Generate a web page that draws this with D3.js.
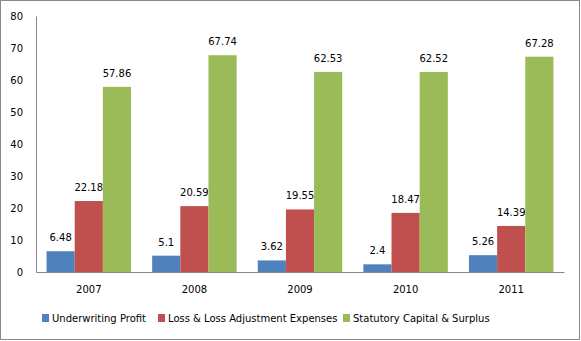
<!DOCTYPE html>
<html>
<head>
<meta charset="utf-8">
<script src="https://cdn.jsdelivr.net/npm/d3@7"></script>
<style>
  body { margin: 0; background: #fff; }
  text { font-family: "DejaVu Sans", Verdana, sans-serif; font-size: 10px; fill: #000; }
</style>
</head>
<body>
<div id="chart-area"></div>
<script>
// Data
var years = ["2007", "2008", "2009", "2010", "2011"];
var seriesNames = ["Underwriting Profit", "Loss & Loss Adjustment Expenses", "Statutory Capital & Surplus"];
var underwriting = [6.48, 5.1, 3.62, 2.4, 5.26];
var lossExpenses = [22.18, 20.59, 19.55, 18.47, 14.39];
var capitalSurplus = [57.86, 67.74, 62.53, 62.52, 67.28];
var yTicks = [0, 10, 20, 30, 40, 50, 60, 70, 80];
var colors = ["#4F81BD", "#C0504D", "#9BBB59"];

var W = 581, H = 341;
var margin = {top: 16, right: 16, bottom: 69, left: 36},
    width = 564 - margin.left,
    height = 272 - margin.top;

var svg = d3.select("#chart-area").append("svg")
    .attr("width", W)
    .attr("height", H);

// outer border
svg.append("rect")
    .attr("x", 0.5).attr("y", 0.5)
    .attr("width", W - 2).attr("height", H - 2)
    .attr("fill", "none")
    .attr("stroke", "#888");

var g = svg.append("g")
    .attr("transform", "translate(" + margin.left + "," + margin.top + ")");

var x0 = d3.scaleBand().domain(years).range([0, width]).paddingInner(0.2).paddingOuter(0.1);
var x1 = d3.scaleBand().domain(d3.range(3)).range([0, x0.bandwidth()]);
var y = d3.scaleLinear().domain([0, 80]).range([height, 0]);

var series = [underwriting, lossExpenses, capitalSurplus];

// bars
series.forEach(function(vals, s) {
    g.selectAll(".bar" + s)
        .data(vals)
        .enter().append("rect")
        .attr("x", function(d, i) { return x0(years[i]) + x1(s); })
        .attr("y", function(d) { return y(d); })
        .attr("width", x1.bandwidth())
        .attr("height", function(d) { return height - y(d); })
        .attr("fill", colors[s]);

    g.selectAll(".lbl" + s)
        .data(vals)
        .enter().append("text")
        .attr("x", function(d, i) { return x0(years[i]) + x1(s) + x1.bandwidth() / 2; })
        .attr("y", function(d) { return y(d) - 10; })
        .attr("text-anchor", "middle")
        .text(function(d) { return d; });
});

// axes
var yAxis = g.append("g")
    .call(d3.axisLeft(y).tickValues(yTicks).tickSize(0).tickPadding(13));
var xAxis = g.append("g")
    .attr("transform", "translate(0," + height + ")")
    .call(d3.axisBottom(x0).tickSize(0).tickPadding(14));

[yAxis, xAxis].forEach(function(a) {
    a.select(".domain").attr("stroke", "#888");
    a.selectAll("text").style("font-family", "\"DejaVu Sans\", Verdana, sans-serif").style("font-size", "10px").attr("fill", "#000");
});

// legend
var legendX = [42, 158, 343];
var legend = svg.append("g");
seriesNames.forEach(function(name, i) {
    legend.append("rect")
        .attr("x", legendX[i]).attr("y", 314)
        .attr("width", 7).attr("height", 8)
        .attr("fill", colors[i]);
    legend.append("text")
        .attr("x", legendX[i] + 10).attr("y", 322)
        .text(name);
});
</script>
</body>
</html>
